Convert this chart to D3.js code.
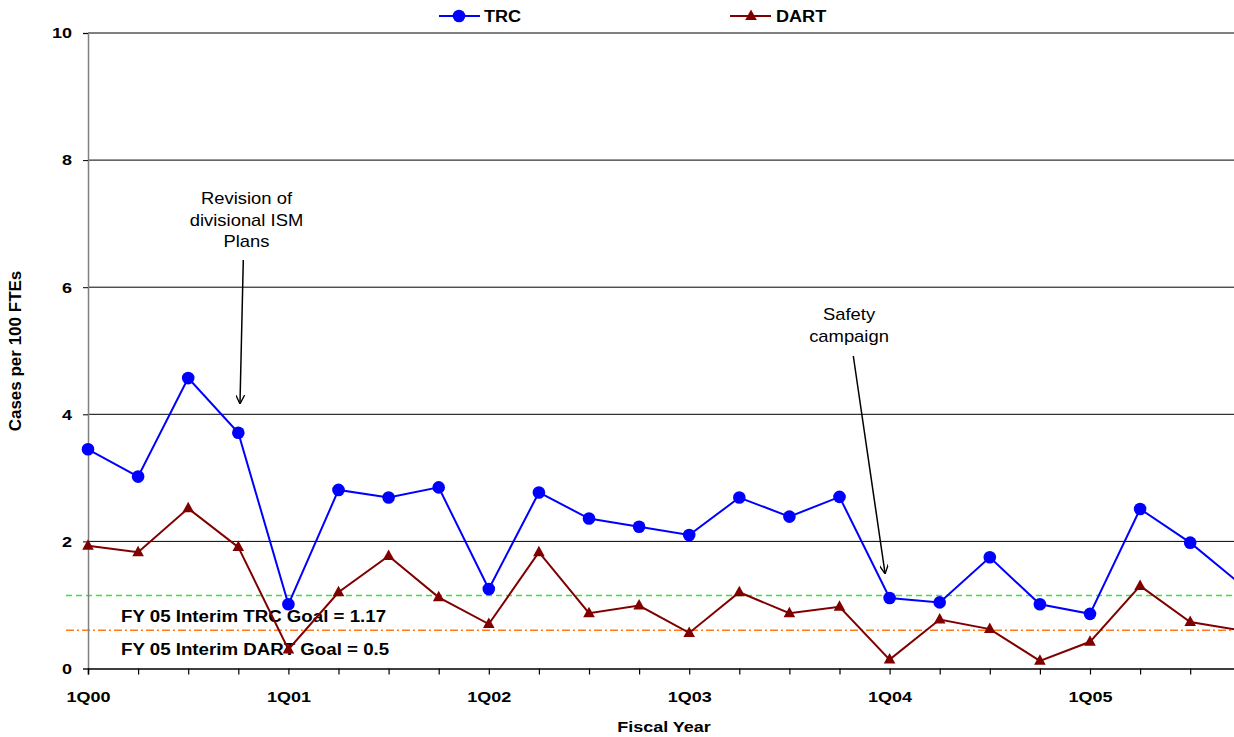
<!DOCTYPE html>
<html>
<head>
<meta charset="utf-8">
<script src="https://cdn.jsdelivr.net/npm/d3@7"></script>
<style>
  body { margin: 0; background: #fff; }
  svg { display: block; font-family: Arial, "Liberation Sans", sans-serif; }
</style>
</head>
<body>
<svg id="chart" width="1234" height="737"></svg>
<script>
// quarters 1Q00 .. 4Q05
const quarters = d3.range(24);
const quarterLabels = ["1Q00", "", "", "", "1Q01", "", "", "", "1Q02", "", "", "",
                       "1Q03", "", "", "", "1Q04", "", "", "", "1Q05", "", "", ""];
const trcValues = [3.45, 3.02, 4.57, 3.71, 1.01, 2.81, 2.69, 2.85, 1.25, 2.77, 2.36, 2.23,
                   2.10, 2.69, 2.39, 2.70, 1.11, 1.04, 1.75, 1.01, 0.86, 2.51, 1.98, 1.33];
const dartValues = [1.93, 1.83, 2.52, 1.91, 0.30, 1.20, 1.77, 1.12, 0.70, 1.83, 0.87, 0.99,
                    0.56, 1.20, 0.87, 0.97, 0.14, 0.77, 0.62, 0.12, 0.42, 1.30, 0.73, 0.60];
const yTicks = [0, 2, 4, 6, 8, 10];
const goalTRC = 1.15;   // where the dashed line sits
const goalDART = 0.6;
const goalTRCLabel = "FY 05 Interim TRC Goal = 1.17";
const goalDARTLabel = "FY 05 Interim DART Goal = 0.5";

const svg = d3.select("#chart");

const x = d3.scaleLinear().domain([0, 23]).range([88, 88 + 23 * 50.1]);
const y = d3.scaleLinear().domain([0, 10]).range([668.5, 33]);

// text helper: the original picture is stretched sideways a little
function label(g, txt, px, py, opts) {
  const o = Object.assign({ size: 15, weight: "bold", anchor: "start", sx: 1.2, rot: 0 }, opts);
  return g.append("text")
    .attr("transform", `translate(${px},${py}) rotate(${o.rot}) scale(${o.sx},1)`)
    .attr("text-anchor", o.anchor)
    .attr("font-size", o.size)
    .attr("font-weight", o.weight)
    .attr("fill", "#000")
    .text(txt);
}

// gridlines
svg.append("g")
  .selectAll("line")
  .data(yTicks.filter(d => d > 0))
  .join("line")
  .attr("x1", x(0)).attr("x2", 1240)
  .attr("y1", d => y(d)).attr("y2", d => y(d))
  .attr("stroke", "#000").attr("stroke-width", 1);

// goal lines
svg.append("line")
  .attr("x1", 66).attr("x2", 1240)
  .attr("y1", y(goalTRC)).attr("y2", y(goalTRC))
  .attr("stroke", "#3ee03e").attr("stroke-width", 1.5)
  .attr("stroke-dasharray", "6,4");
svg.append("line")
  .attr("x1", 66).attr("x2", 1240)
  .attr("y1", y(goalDART)).attr("y2", y(goalDART))
  .attr("stroke", "#ff7a1a").attr("stroke-width", 1.5)
  .attr("stroke-dasharray", "8,3,2,3");

// y axis
const yAxis = svg.append("g")
  .attr("transform", `translate(${x(0)},0)`)
  .call(d3.axisLeft(y).tickValues(yTicks).tickSize(5).tickPadding(11).tickFormat(d3.format("d")));
yAxis.select(".domain").attr("stroke", "#808080").attr("stroke-width", 1.5);
yAxis.selectAll(".tick line").attr("stroke", "#000");
yAxis.selectAll(".tick text")
  .attr("font-size", 15).attr("font-weight", "bold").attr("fill", "#000")
  .attr("font-family", "Arial, 'Liberation Sans', sans-serif")
  .attr("x", -16 / 1.2)
  .attr("transform", "scale(1.2,1)");

// x axis
const xAxis = svg.append("g")
  .attr("transform", `translate(0,${y(0)})`)
  .call(d3.axisBottom(x).tickValues(quarters).tickSize(6).tickPadding(17)
    .tickFormat(i => quarterLabels[i]));
xAxis.select(".domain").attr("stroke", "#000").attr("stroke-width", 1.5);
xAxis.selectAll(".tick line").attr("stroke", "#000").attr("stroke-width", 1.2);
xAxis.selectAll(".tick text")
  .attr("font-size", 15).attr("font-weight", "bold").attr("fill", "#000")
  .attr("font-family", "Arial, 'Liberation Sans', sans-serif")
  .attr("transform", "scale(1.2,1)");

// goal labels
label(svg, goalTRCLabel, 121, 622, { size: 17, sx: 1.1 });
label(svg, goalDARTLabel, 121, 655, { size: 17, sx: 1.1 });

// series
const line = d3.line().x((d, i) => x(i)).y(d => y(d));
const tri = "M0,-6.5L5.8,4L-5.8,4Z";

svg.append("path").datum(dartValues)
  .attr("d", line).attr("fill", "none")
  .attr("stroke", "#800000").attr("stroke-width", 2);
svg.append("g").selectAll("path")
  .data(dartValues).join("path")
  .attr("d", tri)
  .attr("transform", (d, i) => `translate(${x(i)},${y(d)})`)
  .attr("fill", "#800000");

svg.append("path").datum(trcValues)
  .attr("d", line).attr("fill", "none")
  .attr("stroke", "#0000ff").attr("stroke-width", 2);
svg.append("g").selectAll("circle")
  .data(trcValues).join("circle")
  .attr("cx", (d, i) => x(i)).attr("cy", d => y(d))
  .attr("r", 6.3).attr("fill", "#0000ff");

// legend
const legend = svg.append("g");
legend.append("line").attr("x1", 439).attr("x2", 480).attr("y1", 16).attr("y2", 16)
  .attr("stroke", "#0000ff").attr("stroke-width", 2);
legend.append("circle").attr("cx", 459).attr("cy", 16).attr("r", 6.3).attr("fill", "#0000ff");
label(legend, "TRC", 484, 22, { size: 16, sx: 1.13 });
legend.append("line").attr("x1", 730).attr("x2", 771).attr("y1", 16).attr("y2", 16)
  .attr("stroke", "#800000").attr("stroke-width", 2);
legend.append("path").attr("d", tri).attr("transform", "translate(751,16)").attr("fill", "#800000");
label(legend, "DART", 776, 22, { size: 16, sx: 1.13 });

// axis titles
label(svg, "Fiscal Year", 664, 732, { size: 15, anchor: "middle" });
label(svg, "Cases per 100 FTEs", 21, 351, { size: 17, anchor: "middle", rot: -90, sx: 1 });

// annotations
const defs = svg.append("defs");
defs.append("marker")
  .attr("id", "arrow").attr("viewBox", "0 0 10 10")
  .attr("refX", 9).attr("refY", 5)
  .attr("markerWidth", 9).attr("markerHeight", 9)
  .attr("markerUnits", "userSpaceOnUse")
  .attr("orient", "auto")
  .append("path").attr("d", "M0,0L10,5L0,10")
  .attr("fill", "none").attr("stroke", "#000").attr("stroke-width", 1.5);

const notes = [
  { lines: ["Revision of", "divisional ISM", "Plans"], cx: 246.5, top: 204, from: [243.3, 260], to: [240, 403] },
  { lines: ["Safety", "campaign"], cx: 849, top: 320, from: [853.3, 356], to: [885, 573] }
];
notes.forEach(n => {
  n.lines.forEach((t, k) => label(svg, t, n.cx, n.top + k * 21.7, { size: 16, weight: "normal", anchor: "middle", sx: 1.15 }));
  svg.append("line")
    .attr("x1", n.from[0]).attr("y1", n.from[1])
    .attr("x2", n.to[0]).attr("y2", n.to[1])
    .attr("stroke", "#000").attr("stroke-width", 1.5)
    .attr("marker-end", "url(#arrow)");
});
</script>
</body>
</html>
